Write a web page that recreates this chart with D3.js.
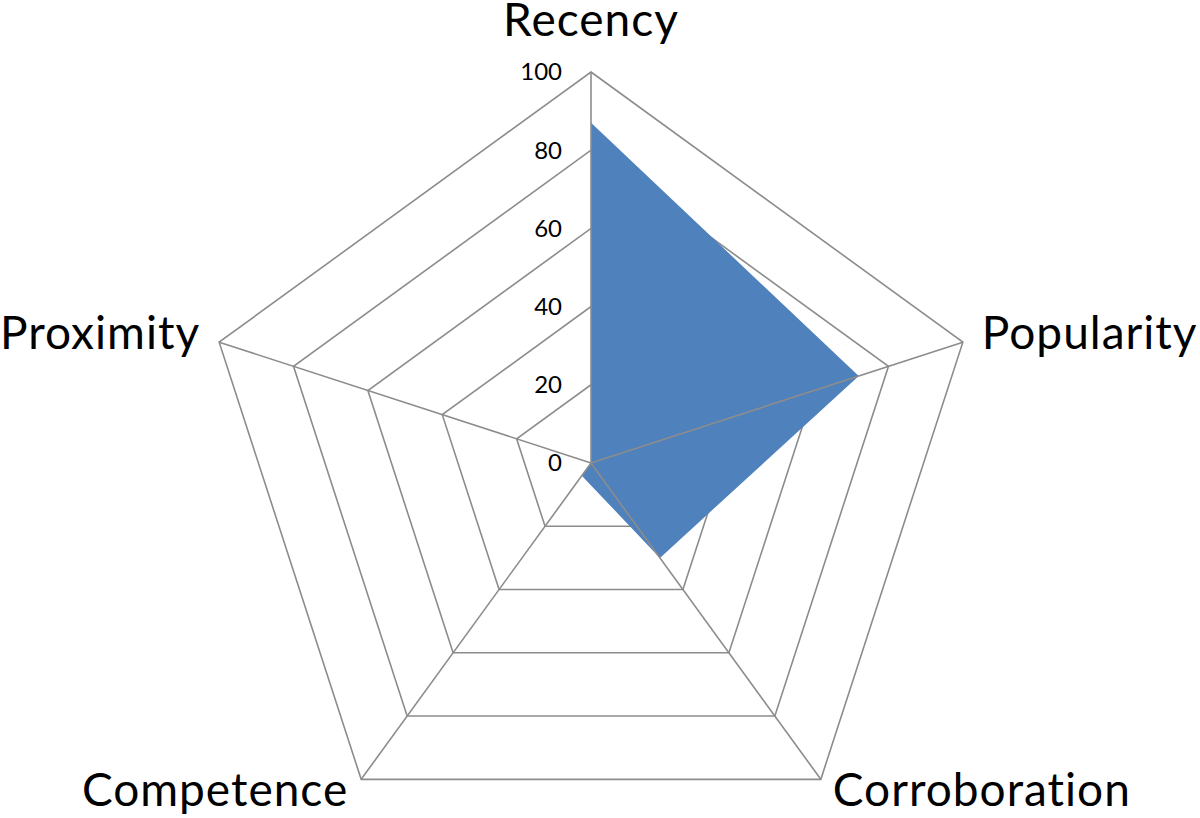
<!DOCTYPE html>
<html>
<head>
<meta charset="utf-8">
<script src="https://cdn.jsdelivr.net/npm/d3@7"></script>
<style>
  html, body { margin: 0; padding: 0; background: #fff; }
  svg { display: block; }
</style>
</head>
<body>
<div id="chart"></div>
<script>
// axis names and series values, clockwise from the top
const categories = ['Recency', 'Popularity', 'Corroboration', 'Competence', 'Proximity'];
const values = [87, 72, 30, 4, 0];
const ticks = [0, 20, 40, 60, 80, 100];

const width = 1200;
const height = 818;
const cx = 591;
const cy = 463;
const radius = 391;

const svg = d3.select('#chart').append('svg')
	.attr('width', width)
	.attr('height', height);

const g = svg.append('g')
	.attr('transform', `translate(${cx}, ${cy})`);

const r = d3.scaleLinear().domain([0, 100]).range([0, radius]);
const angleSlice = (Math.PI * 2) / categories.length;
const angleAt = i => angleSlice * i - Math.PI / 2;

const gridColor = '#8c8c8c';
const font = 'Lato, "Open Sans", sans-serif';

// Grid pentagons
ticks.slice(1).forEach(t => {
	g.append('path')
		.attr('d', d3.line()
			.x((d, i) => r(t) * Math.cos(angleAt(i)))
			.y((d, i) => r(t) * Math.sin(angleAt(i)))
			.curve(d3.curveLinearClosed)(categories))
		.attr('fill', 'none')
		.attr('stroke', gridColor)
		.attr('stroke-width', 1.6);
});

// Series area
g.append('path')
	.attr('d', d3.line()
		.x((d, i) => r(d) * Math.cos(angleAt(i)))
		.y((d, i) => r(d) * Math.sin(angleAt(i)))
		.curve(d3.curveLinearClosed)(values))
	.attr('fill', '#4f81bd');

// Spokes drawn over the fill
g.selectAll('.spoke')
	.data(categories)
	.enter()
	.append('line')
	.attr('x1', 0)
	.attr('y1', 0)
	.attr('x2', (d, i) => radius * Math.cos(angleAt(i)))
	.attr('y2', (d, i) => radius * Math.sin(angleAt(i)))
	.attr('stroke', gridColor)
	.attr('stroke-width', 1.6);

// Tick labels along the top axis
g.selectAll('.tick-label')
	.data(ticks)
	.enter()
	.append('text')
	.attr('x', -29)
	.attr('y', d => -r(d))
	.attr('dy', '0.35em')
	.attr('text-anchor', 'end')
	.style('font-family', font)
	.style('font-size', '24px')
	.style('fill', '#000')
	.text(d => d);

// Category labels, offsets from each outer vertex (alphabetic baseline)
const labelOffset = [
	{ dx: 0, dy: -36, anchor: 'middle' },
	{ dx: 19, dy: 7, anchor: 'start' },
	{ dx: 12, dy: 27, anchor: 'start' },
	{ dx: -13, dy: 27, anchor: 'end' },
	{ dx: -19, dy: 7, anchor: 'end' }
];

g.selectAll('.cat-label')
	.data(categories)
	.enter()
	.append('text')
	.attr('x', (d, i) => radius * Math.cos(angleAt(i)) + labelOffset[i].dx)
	.attr('y', (d, i) => radius * Math.sin(angleAt(i)) + labelOffset[i].dy)
	.attr('text-anchor', (d, i) => labelOffset[i].anchor)
	.style('font-family', font)
	.style('font-size', '46px')
	.style('letter-spacing', '1px')
	.style('fill', '#000')
	.text(d => d);
</script>
</body>
</html>
